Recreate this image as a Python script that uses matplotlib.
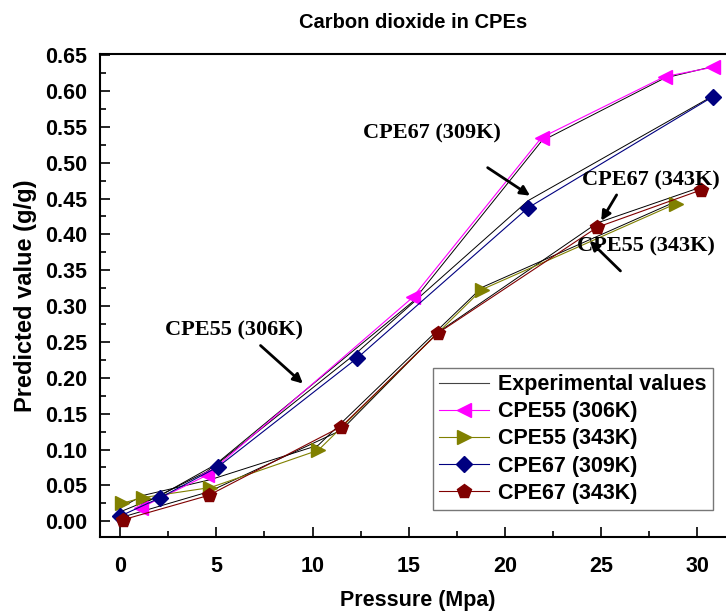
import matplotlib.pyplot as plt
from matplotlib.ticker import MultipleLocator

# predicted values
x_55_306 = [1.1, 4.5, 15.2, 21.9, 28.3, 30.8]
y_55_306 = [0.019, 0.064, 0.312, 0.535, 0.620, 0.633]
x_55_343 = [0.1, 1.2, 4.7, 10.3, 18.8, 28.9]
y_55_343 = [0.025, 0.033, 0.047, 0.099, 0.323, 0.443]
x_67_309 = [0.0, 2.1, 5.1, 12.3, 21.2, 30.8]
y_67_309 = [0.007, 0.033, 0.076, 0.227, 0.437, 0.592]
x_67_343 = [0.15, 4.6, 11.5, 16.5, 24.8, 30.2]
y_67_343 = [0.002, 0.036, 0.132, 0.262, 0.410, 0.462]

# experimental values
e_55_306 = [0.023, 0.069, 0.306, 0.530, 0.618, 0.634]
e_55_343 = [0.020, 0.036, 0.058, 0.106, 0.326, 0.446]
e_67_309 = [0.013, 0.036, 0.081, 0.235, 0.447, 0.593]
e_67_343 = [0.006, 0.041, 0.127, 0.263, 0.416, 0.466]

labels = ['CPE55 (306K)', 'CPE55 (343K)', 'CPE67 (309K)', 'CPE67 (343K)']
colors = ['#ff00ff', '#808000', '#000080', '#800000']
markers = ['<', '>', 'D', 'p']
msizes = [10, 10, 8, 10]

plt.rcParams['font.family'] = 'Liberation Sans'
plt.rcParams['font.weight'] = 'bold'

fig = plt.figure(figsize=(7.26, 6.11), dpi=100)
ax = fig.add_axes([100 / 726, 1 - 537 / 611, 635 / 726, 483 / 611])

xs = [x_55_306, x_55_343, x_67_309, x_67_343]
ys = [y_55_306, y_55_343, y_67_309, y_67_343]
es = [e_55_306, e_55_343, e_67_309, e_67_343]

for x, e in zip(xs, es):
    ax.plot(x, e, color='black', lw=0.7, zorder=2)
ax.plot([], [], color='#444444', lw=0.8, label='Experimental values')
for x, y, lab, c, m, s in zip(xs, ys, labels, colors, markers, msizes):
    ax.plot(x, y, color=c, lw=0.8, marker=m, markersize=s, label=lab, zorder=3)

ax.set_xlim(-1.04, 31.95)
ax.set_ylim(-0.022, 0.6515)
ax.xaxis.set_major_locator(MultipleLocator(5))
ax.xaxis.set_minor_locator(MultipleLocator(2.5))
ax.yaxis.set_major_locator(MultipleLocator(0.05))
ax.yaxis.set_minor_locator(MultipleLocator(0.025))
ax.tick_params(which='both', direction='in', top=False, right=False, labelsize=15.5, width=1.2)
ax.tick_params(which='major', length=7)
ax.tick_params(which='minor', length=4)
ax.tick_params(axis='x', pad=14)
ax.tick_params(axis='y', pad=9)
ax.yaxis.set_major_formatter(plt.FuncFormatter(lambda v, p: f'{v:.2f}'))
for sp in ax.spines.values():
    sp.set_linewidth(1.5)

ax.set_xlabel('Pressure (Mpa)', fontsize=15.5, fontweight='bold', labelpad=9)
ax.set_ylabel('Predicted value (g/g)', fontsize=17, fontweight='bold', labelpad=6)
fig.text(413 / 726, 1 - 22 / 611, 'Carbon dioxide in CPEs', ha='center', va='center',
         fontsize=14.5, fontweight='bold')

arrow = dict(arrowstyle='-|>', color='black', lw=2, mutation_scale=14, shrinkA=0, shrinkB=0)
txt = dict(fontsize=16, fontweight='bold', family='Liberation Serif', ha='center', va='center')
ax.text(16.2, 0.54, 'CPE67 (309K)', **txt)
ax.annotate('', xy=(21.3, 0.454), xytext=(19.1, 0.493), arrowprops=arrow)
ax.text(27.6, 0.475, 'CPE67 (343K)', **txt)
ax.annotate('', xy=(25.0, 0.419), xytext=(25.8, 0.455), arrowprops=arrow)
ax.text(27.3, 0.383, 'CPE55 (343K)', **txt)
ax.annotate('', xy=(24.4, 0.391), xytext=(26.0, 0.349), arrowprops=arrow)
ax.text(5.9, 0.266, 'CPE55 (306K)', **txt)
ax.annotate('', xy=(9.5, 0.192), xytext=(7.3, 0.245), arrowprops=arrow)

leg = ax.legend(loc='lower left', bbox_to_anchor=((433 - 100) / 635, (537 - 510) / 483),
                fontsize=15.5, frameon=True, fancybox=False, edgecolor='#555555',
                handlelength=2.3, borderpad=0.3, labelspacing=0.28, handletextpad=0.4,
                borderaxespad=0)
leg.get_frame().set_linewidth(1.0)

fig.savefig('out.png', dpi=100)
